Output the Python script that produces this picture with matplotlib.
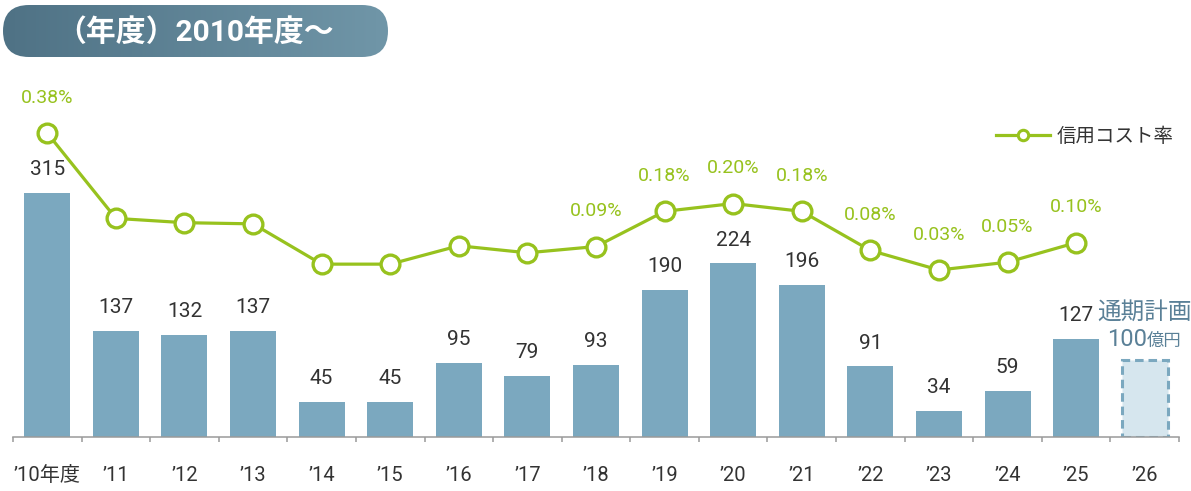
import matplotlib
matplotlib.use("Agg")
import matplotlib.pyplot as plt
import numpy as np
from matplotlib.lines import Line2D
from matplotlib.patches import FancyBboxPatch

plt.rcParams["font.family"] = ["Roboto", "Noto Sans CJK JP", "DejaVu Sans"]

# data (億円, 年度)
years = ["’10年度", "’11", "’12", "’13", "’14", "’15", "’16", "’17", "’18",
         "’19", "’20", "’21", "’22", "’23", "’24", "’25", "’26"]
credit_cost = [315, 137, 132, 137, 45, 45, 95, 79, 93, 190, 224, 196, 91, 34, 59, 127]
plan_fy26 = 100
cost_rate = [0.38, 0.162, 0.151, 0.148, 0.045, 0.045, 0.092, 0.074, 0.09,
             0.18, 0.20, 0.18, 0.08, 0.03, 0.05, 0.10]
rate_labels = ["0.38%", "", "", "", "", "", "", "", "0.09%",
               "0.18%", "0.20%", "0.18%", "0.08%", "0.03%", "0.05%", "0.10%"]

BAR = "#7ba8bf"
GREEN = "#97c21e"
TEXT = "#333333"
PLAN = "#5a8097"
AXIS = "#9a9a9a"

W, H = 1191, 491
fig = plt.figure(figsize=(W / 100, H / 100), dpi=100)

# banner
bg = fig.add_axes([0, 0, 1, 1])
bg.set_xlim(0, W)
bg.set_ylim(H, 0)
bg.axis("off")
pill = FancyBboxPatch((3, 5), 385, 52, boxstyle="round,pad=0,rounding_size=26",
                      linewidth=0, facecolor="none")
bg.add_patch(pill)
grad = np.linspace(0, 1, 256).reshape(1, -1)
cmap = matplotlib.colors.LinearSegmentedColormap.from_list("g", ["#4f7285", "#7096a8"])
im = bg.imshow(grad, extent=(3, 388, 57, 5), cmap=cmap, aspect="auto")
im.set_clip_path(pill)
bg.text(195, 32, "（年度）2010年度～", color="white", fontsize=21.5,
        fontweight="bold", ha="center", va="center")

# main axes
ax = fig.add_axes([13 / W, 54 / H, 1166 / W, 377 / H])
x = np.arange(len(years))
bars = ax.bar(x[:len(credit_cost)], credit_cost, width=0.67, color=BAR, zorder=2)
ax.bar_label(bars, padding=10, fontsize=15, color=TEXT)
ax.bar(x[-1], plan_fy26, width=0.67, facecolor="#d6e6ee", edgecolor=BAR,
       linewidth=2.2, linestyle=(0, (2.8, 1.6)), zorder=2)
ax.annotate("通期計画", xy=(x[-1], plan_fy26), xytext=(0, 29), textcoords="offset points",
            ha="center", va="baseline", fontsize=17, color=PLAN)
ax.annotate("100", xy=(x[-1], plan_fy26), xytext=(1.5, 10), textcoords="offset points",
            ha="right", va="baseline", fontsize=17, color=PLAN)
ax.annotate("億円", xy=(x[-1], plan_fy26), xytext=(1.5, 10), textcoords="offset points",
            ha="left", va="baseline", fontsize=12.5, color=PLAN)

ax.set_xlim(-0.5, len(years) - 0.5)
ax.set_ylim(0, 486.5)
for s in ["top", "right", "left"]:
    ax.spines[s].set_visible(False)
ax.spines["bottom"].set_color(AXIS)
ax.spines["bottom"].set_linewidth(1.1)
ax.set_yticks([])
ax.set_xticks(np.arange(len(years) + 1) - 0.5)
ax.set_xticklabels([])
ax.tick_params(axis="x", which="major", length=3.6, width=1.1, color=AXIS)
ax.set_xticks(x, minor=True)
ax.set_xticklabels(years, minor=True, fontsize=14.5, color=TEXT)
ax.tick_params(axis="x", which="minor", length=0, pad=21)

# credit cost rate line
ax2 = ax.twinx()
ax2.set_ylim(-0.397, 0.567)
ax2.axis("off")
xr = x[:len(cost_rate)]
ax2.plot(xr, cost_rate, color=GREEN, linewidth=2.3, marker="o", markersize=13.5,
         markerfacecolor="white", markeredgecolor=GREEN, markeredgewidth=2.4, zorder=3)
for xi, v, lab in zip(xr, cost_rate, rate_labels):
    if lab:
        ax2.annotate(lab, xy=(xi, v), xytext=(0, 19), textcoords="offset points",
                     ha="center", va="bottom", fontsize=14, color=GREEN)

handle = Line2D([], [], color=GREEN, linewidth=2.3, marker="o", markersize=7.5,
                markerfacecolor="white", markeredgecolor=GREEN, markeredgewidth=2.2)
fig.legend([handle], ["信用コスト率"], loc="center left",
           bbox_to_anchor=(996 / W, 1 - 137 / H), frameon=False, fontsize=14,
           handlelength=2.8, handletextpad=0.3, borderpad=0, borderaxespad=0,
           labelcolor=TEXT)

fig.savefig("out.png", dpi=100)
